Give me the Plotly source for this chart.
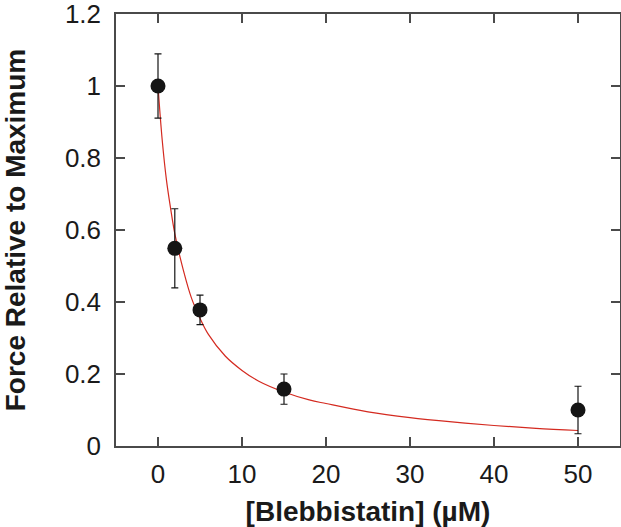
import plotly.graph_objects as go

# Datos medidos (fuerza relativa vs blebbistatina)
conc_um = [0, 2, 5, 15, 50]
fuerza = [1.0, 0.549, 0.378, 0.158, 0.100]
error = [0.089, 0.11, 0.041, 0.042, 0.066]

# Curva de ajuste
ajuste_x = [0, 0.5, 1, 1.5, 2, 3, 4, 5, 6, 8, 10, 12, 15, 18, 20, 25, 30, 35, 40, 45, 50]
ajuste_y = [1.0, 0.85, 0.74, 0.66, 0.59, 0.49, 0.41, 0.355, 0.31, 0.25, 0.21, 0.18,
            0.15, 0.128, 0.118, 0.095, 0.079, 0.067, 0.057, 0.049, 0.043]

x_ticks = [0, 10, 20, 30, 40, 50]
y_ticks = [0, 0.2, 0.4, 0.6, 0.8, 1, 1.2]

FONT = 'Liberation Sans, Arial, sans-serif'
AXIS_COLOR = '#4a4a4a'

fig = go.Figure()

fig.add_trace(go.Scatter(
    x=ajuste_x, y=ajuste_y, mode='lines',
    line=dict(color='#d42a20', width=1.2, shape='spline'),
    showlegend=False,
))

fig.add_trace(go.Scatter(
    x=conc_um, y=fuerza, mode='markers',
    marker=dict(color='#151515', size=15),
    error_y=dict(type='data', array=error, color='#151515', thickness=1.2, width=3.5),
    showlegend=False,
))

axis_common = dict(
    showline=True, linecolor=AXIS_COLOR, linewidth=1.5, mirror='ticks',
    ticks='inside', ticklen=9, tickwidth=1.5, tickcolor=AXIS_COLOR,
    showgrid=False, zeroline=False, automargin=False,
    ticklabeloverflow='allow',
    tickfont=dict(family=FONT, size=26, color='#1a1a1a'),
)

fig.update_xaxes(
    **axis_common,
    range=[-5, 55], tickvals=x_ticks, ticktext=[str(v) for v in x_ticks],
    ticklabelstandoff=4,
    title=dict(text='<b>[Blebbistatin] (µM)</b>',
               font=dict(family=FONT, size=28, color='#1a1a1a'), standoff=14),
)
fig.update_yaxes(
    **axis_common,
    range=[0, 1.2], tickvals=y_ticks, ticktext=[f'{v:g}' for v in y_ticks],
    ticklabelstandoff=8,
    title=dict(text='<b>Force Relative to Maximum</b>',
               font=dict(family=FONT, size=28, color='#1a1a1a'), standoff=40),
)

fig.update_layout(
    width=621, height=527,
    margin=dict(l=116, r=1, t=14, b=81),
    paper_bgcolor='white', plot_bgcolor='white',
)

# el body trae 8px de margen por defecto; se quita para que la figura llene la ventana
fig.write_html('out.html', config={'displayModeBar': False},
               post_script="document.body.style.margin='0';")
